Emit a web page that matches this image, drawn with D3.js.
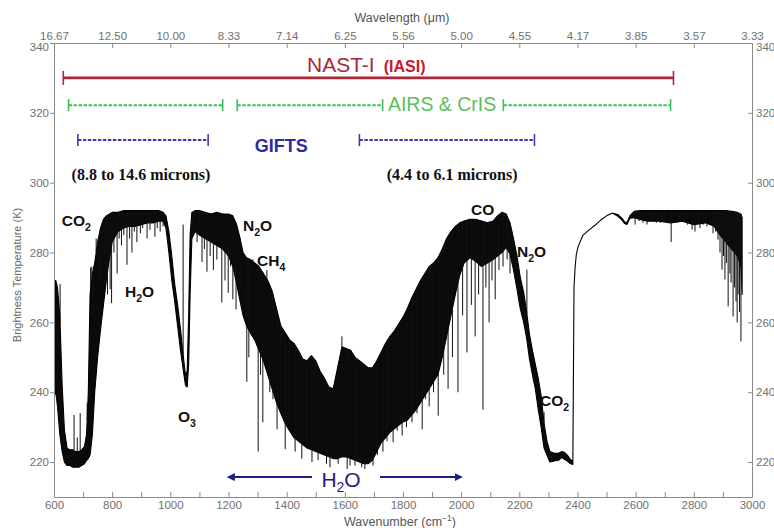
<!DOCTYPE html>
<html>
<head>
<meta charset="utf-8">
<script src="https://cdnjs.cloudflare.com/ajax/libs/d3/7.8.5/d3.min.js"></script>
<style>
  body { margin: 0; background: #fff; }
  svg { font-family: "Liberation Sans", Arial, sans-serif; }
  .axis text { fill: #707070; font-size: 11.5px; font-family: "Liberation Sans", Arial, sans-serif; }
  .axis path, .axis line { stroke: #8a8a8a; }
</style>
</head>
<body>
<div id="chart"></div>
<script>
// spectrum envelope (wavenumber cm-1, brightness temperature K)
const waveNum = [
  600, 606, 612, 620, 628, 636, 645, 655, 665, 675,
  685, 695, 705, 712, 718, 724, 732, 740, 750, 760,
  770, 780, 790, 800, 820, 840, 860, 880, 900, 920,
  940, 960, 975, 985, 995, 1005, 1015, 1025, 1035, 1045,
  1052, 1058, 1063, 1068, 1074, 1085, 1100, 1120, 1140, 1160,
  1180, 1200, 1215, 1228, 1240, 1250, 1262, 1275, 1290, 1305,
  1320, 1335, 1350, 1365, 1380, 1395, 1410, 1425, 1440, 1455,
  1470, 1485, 1500, 1515, 1530, 1545, 1560, 1575, 1590, 1605,
  1620, 1635, 1650, 1665, 1680, 1695, 1710, 1725, 1740, 1755,
  1770, 1785, 1800, 1815, 1830, 1845, 1860, 1875, 1890, 1905,
  1920, 1935, 1950, 1965, 1980, 1995, 2010, 2030, 2050, 2070,
  2090, 2110, 2125, 2140, 2155, 2168, 2180, 2192, 2203, 2215,
  2225, 2235, 2245, 2255, 2265, 2275, 2285, 2295, 2305, 2320,
  2335, 2345, 2355, 2365, 2375, 2384, 2388, 2392, 2396, 2402,
  2419, 2440, 2460, 2480, 2500, 2520, 2540, 2553, 2562, 2570,
  2580, 2595, 2615, 2640, 2680, 2720, 2760, 2800, 2840, 2870,
  2890, 2910, 2930, 2950, 2962, 2966,
];
const tbHigh = [
  271, 272, 270, 262, 242, 229, 224, 223.5, 223.5, 223,
  223, 223.5, 224.5, 228, 240, 268, 274, 277, 283, 287,
  289.5, 290.5, 291, 291.5, 291.5, 292, 292, 292, 292, 292,
  292, 292, 291.5, 290.5, 286, 279, 271, 265, 258, 250,
  245, 246, 262, 285, 291.5, 292, 292, 291.5, 291, 291.5,
  291, 291, 290.5, 288, 284, 280, 278.5, 278, 277, 276,
  274, 272, 269, 264, 259, 257, 255, 254, 252, 249.5,
  249, 250.5, 249, 246, 244, 241.5, 241, 247, 253, 252.5,
  252, 250, 249, 248, 247, 247, 249, 251.5, 254, 256,
  257.5, 259.5, 261.5, 264, 267, 269.5, 272, 274, 276, 277,
  278.5, 281, 284, 286, 287.5, 288.5, 289, 289.5, 289.5, 289,
  288.5, 289, 290.5, 291.5, 291, 288.5, 284, 279, 273, 268.5,
  263, 256.5, 252, 248, 244, 239, 231, 226, 223, 222.5,
  222.5, 223, 222.8, 222, 220.8, 220.2, 270, 276, 279.5, 281.7,
  285, 286.5, 287.8, 289.3, 290.5, 291.3, 290.8, 289.8, 288.8, 288.5,
  290.5, 291.8, 292, 292, 292, 292, 292, 292, 292, 292,
  292, 292, 291.8, 291.5, 291, 290,
];
const tbLow = [
  239, 240, 236, 228, 223, 220, 219, 219, 218.5, 218.5,
  218.5, 219, 219.5, 220.5, 221, 222, 228, 240, 250, 258,
  265, 272, 278, 283, 286, 287, 287.5, 287.5, 288, 288.5,
  288.5, 289, 289, 287, 280, 272, 266, 259, 252, 246,
  242, 241.5, 248, 268, 284, 286, 285, 284, 283, 282,
  281, 279, 276, 271, 266, 262, 259, 257, 255, 252,
  249, 245, 241, 237, 234, 231, 229, 227, 226, 225,
  224, 223.5, 223, 222.5, 222, 221.5, 221, 221, 221.5, 221.5,
  221, 220.5, 220, 219.5, 219.5, 220.5, 223, 225.5, 227, 228.5,
  229.5, 230.5, 231.5, 232, 233.5, 235, 237, 239, 241, 243,
  245, 250, 256, 262, 268, 273.5, 277, 278.5, 277.5, 276,
  277, 278, 279, 280, 281.5, 279.5, 275, 269.5, 264, 260,
  255.5, 249.5, 245, 241, 235, 230, 224, 222, 220, 220.3,
  220.5, 221.3, 220.8, 220.3, 219.6, 219.3, 270, 276, 279.5, 281.7,
  285, 286.5, 287.8, 289.3, 290.5, 291.3, 290.3, 289.3, 288.3, 288,
  289.8, 290, 289.5, 289, 289, 288.5, 289, 288, 288.5, 287.5,
  285, 283, 281, 279, 276, 268,
];

// single absorption lines that stick out of the envelope
const lineWn = [
  604, 608, 621, 669, 680, 690, 714, 726, 730, 736,
  745, 752, 758, 766, 775, 784, 793, 798, 806, 817,
  824, 832, 840, 851, 860, 868, 876, 885, 897, 905,
  920, 930, 947, 955, 965, 975, 1044, 1079, 1092, 1100,
  1109, 1117, 1126, 1137, 1148, 1160, 1168, 1177, 1188, 1199,
  1207, 1215, 1226, 1240, 1263, 1270, 1284, 1302, 1310, 1318,
  1332, 1342, 1353, 1367, 1378, 1395, 1410, 1429, 1440, 1452,
  1469, 1487, 1498, 1508, 1525, 1537, 1549, 1562, 1577, 1590,
  1608, 1618, 1635, 1645, 1658, 1669, 1684, 1697, 1712, 1731,
  1745, 1766, 1780, 1797, 1812, 1831, 1848, 1866, 1878, 1890,
  1905, 1921, 1940, 1955, 1970, 1989, 2005, 2020, 2035, 2048,
  2060, 2075, 2085, 2096, 2106, 2117, 2130, 2144, 2158, 2168,
  2226, 2285, 2598, 2612, 2625, 2639, 2650, 2660, 2671, 2684,
  2700, 2722, 2742, 2752, 2763, 2778, 2794, 2804, 2812, 2821,
  2833, 2845, 2856, 2866, 2875, 2883, 2890, 2897, 2902, 2907,
  2912, 2918, 2924, 2928, 2935, 2940, 2945, 2949, 2952, 2957, 2962,
];
const lineTb = [
  272, 268, 271, 233.5, 227, 234, 237, 275.7, 276, 262,
  284, 282, 272, 278, 274, 268, 269.5, 265.5, 280, 274,
  284, 282, 285, 276.5, 284, 280, 286, 283, 285.5, 287,
  284, 286.5, 284.5, 287, 286, 287.5, 288, 285.5, 283, 286,
  277.3, 281, 274.5, 279, 275, 278, 283, 265.7, 272, 268.5,
  276, 266.6, 263.7, 270, 243, 250, 278, 223, 245, 231.4,
  275, 240, 238, 229.4, 236, 223.7, 232, 223, 229, 221,
  226, 220, 225, 220.5, 224, 219.5, 218.5, 223, 219.5, 256,
  218, 219, 219, 221, 218.5, 218, 220, 219, 222, 223,
  226, 225.7, 229, 227.6, 230, 231.4, 234, 229.4, 238, 236,
  240, 233.3, 245, 241, 250, 240, 262, 251.4, 265, 256,
  268, 235, 270, 260, 272, 266.6, 275, 276, 278, 274,
  275.1, 234.3, 288, 289, 288.5, 288, 289, 289, 288.5, 288.5,
  289, 283, 288.5, 289, 289, 288, 286.6, 286, 288, 287,
  288, 287.5, 288, 285.5, 286, 283.7, 280, 275.1, 279, 272.3,
  277, 264.6, 274, 271.4, 261.7, 270, 266, 260, 268, 263, 254.6,
];

// axes
const wnTicks = [600, 700, 800, 900, 1000, 1100, 1200, 1300, 1400, 1500, 1600, 1700, 1800,
  1900, 2000, 2100, 2200, 2300, 2400, 2500, 2600, 2700, 2800, 2900, 3000];
const wlTickWn = [600, 800, 1000, 1200, 1400, 1600, 1800, 2000, 2200, 2400, 2600, 2800, 3000];
const wlLabels = ['16.67', '12.50', '10.00', '8.33', '7.14', '6.25', '5.56', '5.00', '4.55',
  '4.17', '3.85', '3.57', '3.33'];
const tbTicks = [220, 240, 260, 280, 300, 320, 340];

// instrument coverage bars
const nastRange = [632, 2730];
const airsRanges = [[650, 1180], [1230, 1730], [2145, 2720]];
const giftsRanges = [[682, 1130], [1650, 2252]];
const h2oArrow = [[1200, 1487], [1721, 2000]];

// gas labels
const gasPre = ['CO', 'H', 'O', 'N', 'CH', 'CO', 'N', 'CO'];
const gasSub = ['2', '2', '3', '2', '4', '', '2', '2'];
const gasPost = ['', 'O', '', 'O', '', '', 'O', ''];
const gasWn = [627, 844, 1026, 1250, 1298, 2034, 2192, 2271];
const gasTb = [287.6, 267.3, 231.5, 286.2, 276.1, 290.7, 278.7, 236];

const width = 774;
const height = 528;
const plot = { left: 54, right: 752, top: 43, bottom: 497 };

const svg = d3.select('#chart').append('svg')
  .attr('width', width)
  .attr('height', height);

svg.append('rect').attr('width', width).attr('height', height).attr('fill', '#fff');

const xScale = d3.scaleLinear().domain([600, 3000]).range([plot.left, plot.right]);
const yScale = d3.scaleLinear().domain([210, 340]).range([plot.bottom, plot.top]);

svg.append('clipPath').attr('id', 'plotClip')
  .append('rect')
  .attr('x', plot.left)
  .attr('y', plot.top)
  .attr('width', plot.right - plot.left)
  .attr('height', plot.bottom - plot.top);

// spectrum band
const spectrum = waveNum.map((w, i) => ({ w, hi: tbHigh[i], lo: tbLow[i] }));
const band = d3.area()
  .x(d => xScale(d.w))
  .y0(d => yScale(d.lo))
  .y1(d => yScale(d.hi));

const specG = svg.append('g').attr('clip-path', 'url(#plotClip)');

specG.append('path')
  .datum(spectrum)
  .attr('d', band)
  .attr('fill', '#0a0a0a')
  .attr('stroke', '#000')
  .attr('stroke-width', 1.1)
  .attr('stroke-linejoin', 'round');

const bis = d3.bisector(d => d).left;
function topAt(w) {
  const i = Math.max(1, Math.min(waveNum.length - 1, bis(waveNum, w)));
  const t = (w - waveNum[i - 1]) / (waveNum[i] - waveNum[i - 1]);
  return tbHigh[i - 1] + t * (tbHigh[i] - tbHigh[i - 1]);
}

specG.selectAll('.specline')
  .data(lineWn.map((w, i) => ({ w, tb: lineTb[i] })))
  .enter()
  .append('line')
  .attr('class', 'specline')
  .attr('x1', d => xScale(d.w))
  .attr('x2', d => xScale(d.w))
  .attr('y1', d => yScale(topAt(d.w)))
  .attr('y2', d => yScale(d.tb))
  .attr('stroke', '#111')
  .attr('stroke-width', 1);

// axes
svg.append('g')
  .attr('class', 'axis axis--x')
  .attr('transform', `translate(0,${plot.bottom})`)
  .call(d3.axisBottom(xScale)
    .tickValues(wnTicks)
    .tickFormat(d => (d % 200 === 0 ? d : ''))
    .tickSizeInner(-5)
    .tickSizeOuter(0)
    .tickPadding(4));

svg.append('g')
  .attr('class', 'axis axis--top')
  .attr('transform', `translate(0,${plot.top})`)
  .call(d3.axisTop(xScale)
    .tickValues(wlTickWn)
    .tickFormat((d, i) => wlLabels[i])
    .tickSizeInner(-5)
    .tickSizeOuter(0)
    .tickPadding(3));

svg.append('g')
  .attr('class', 'axis axis--y')
  .attr('transform', `translate(${plot.left},0)`)
  .call(d3.axisLeft(yScale)
    .tickValues(tbTicks)
    .tickSizeInner(4)
    .tickSizeOuter(0)
    .tickPadding(1));

svg.append('g')
  .attr('class', 'axis axis--y2')
  .attr('transform', `translate(${plot.right},0)`)
  .call(d3.axisRight(yScale)
    .tickValues(tbTicks)
    .tickSizeInner(-4)
    .tickSizeOuter(0)
    .tickPadding(4));

// the corner "340" labels sit a little lower than the wavelength labels, as in the source
svg.selectAll('.axis--y .tick text, .axis--y2 .tick text')
  .filter(d => d === 340)
  .attr('dy', '0.62em');

svg.append('text')
  .attr('x', 402)
  .attr('y', 22)
  .attr('text-anchor', 'middle')
  .attr('fill', '#555')
  .style('font-size', '12.5px')
  .text('Wavelength (μm)');

const xTitle = svg.append('text')
  .attr('x', 400)
  .attr('y', 526)
  .attr('text-anchor', 'middle')
  .attr('fill', '#555')
  .style('font-size', '12.5px');
xTitle.append('tspan').text('Wavenumber (cm');
xTitle.append('tspan').attr('dy', -5).style('font-size', '8.5px').text('−1');
xTitle.append('tspan').attr('dy', 5).text(')');

svg.append('text')
  .attr('transform', `translate(21,275) rotate(-90)`)
  .attr('text-anchor', 'middle')
  .attr('fill', '#666')
  .style('font-size', '11px')
  .text('Brightness Temperature (K)');

// instrument bars
function capBar(g, w0, w1, tb, color, width, dash, cap) {
  const y = yScale(tb);
  g.append('line')
    .attr('x1', xScale(w0)).attr('x2', xScale(w1))
    .attr('y1', y).attr('y2', y)
    .attr('stroke', color)
    .attr('stroke-width', width)
    .attr('stroke-dasharray', dash);
  [w0, w1].forEach((w) => {
    g.append('line')
      .attr('x1', xScale(w)).attr('x2', xScale(w))
      .attr('y1', y - cap).attr('y2', y + cap)
      .attr('stroke', color)
      .attr('stroke-width', 1.6);
  });
}

const ann = svg.append('g');

capBar(ann, nastRange[0], nastRange[1], 330, '#a8283a', 2.6, null, 7);
airsRanges.forEach(r => capBar(ann, r[0], r[1], 322.2, '#3fbf5a', 2, '3.5,1.5', 6));
giftsRanges.forEach(r => capBar(ann, r[0], r[1], 312.2, '#3c3cb4', 2, '3.5,1.5', 6));

const nastText = ann.append('text')
  .attr('x', xScale(1470))
  .attr('y', yScale(331.6))
  .attr('fill', '#a8283a');
nastText.append('tspan').style('font-size', '21px').text('NAST-I');
nastText.append('tspan').attr('dx', 9).attr('fill', '#c8182e').style('font-size', '16px').style('font-weight', 'bold').text('(IASI)');

ann.append('text')
  .attr('x', xScale(1748))
  .attr('y', yScale(320.4))
  .attr('fill', '#5cbf5c')
  .style('font-size', '19.5px')
  .text('AIRS & CrIS');

ann.append('text')
  .attr('x', xScale(1381))
  .attr('y', yScale(308.8))
  .attr('text-anchor', 'middle')
  .attr('fill', '#2c2ca0')
  .style('font-size', '18px')
  .style('font-weight', 'bold')
  .text('GIFTS');

[[899, '(8.8 to 14.6 microns)'], [1969, '(4.4 to 6.1 microns)']].forEach((m) => {
  ann.append('text')
    .attr('x', xScale(m[0]))
    .attr('y', yScale(300.8))
    .attr('text-anchor', 'middle')
    .attr('fill', '#111')
    .style('font-family', '"Liberation Serif", "Times New Roman", serif')
    .style('font-size', '16px')
    .style('font-weight', 'bold')
    .text(m[1]);
});

// H2O arrow
const navy = '#1e1e86';
svg.append('defs').append('marker')
  .attr('id', 'arrowHead')
  .attr('viewBox', '0 0 10 10')
  .attr('refX', 8)
  .attr('refY', 5)
  .attr('markerWidth', 4)
  .attr('markerHeight', 4)
  .attr('orient', 'auto-start-reverse')
  .append('path')
  .attr('d', 'M0,0L10,5L0,10z')
  .attr('fill', navy);

ann.append('line')
  .attr('x1', xScale(h2oArrow[0][0])).attr('x2', xScale(h2oArrow[0][1]))
  .attr('y1', yScale(215.7)).attr('y2', yScale(215.7))
  .attr('stroke', navy).attr('stroke-width', 2)
  .attr('marker-start', 'url(#arrowHead)');
ann.append('line')
  .attr('x1', xScale(h2oArrow[1][0])).attr('x2', xScale(h2oArrow[1][1]))
  .attr('y1', yScale(215.7)).attr('y2', yScale(215.7))
  .attr('stroke', navy).attr('stroke-width', 2)
  .attr('marker-end', 'url(#arrowHead)');

const h2o = ann.append('text')
  .attr('x', xScale(1587))
  .attr('y', yScale(212.9))
  .attr('text-anchor', 'middle')
  .attr('fill', navy)
  .style('font-size', '21px');
h2o.append('tspan').text('H');
h2o.append('tspan').attr('dy', 5).style('font-size', '14px').text('2');
h2o.append('tspan').attr('dy', -5).text('O');

// gas labels
gasPre.forEach((p, i) => {
  const t = ann.append('text')
    .attr('x', xScale(gasWn[i]))
    .attr('y', yScale(gasTb[i]))
    .attr('fill', '#111')
    .style('font-size', '15.5px')
    .style('font-weight', 'bold');
  t.append('tspan').text(p);
  if (gasSub[i]) {
    t.append('tspan').attr('dy', 5).style('font-size', '10.5px').text(gasSub[i]);
  }
  if (gasPost[i]) {
    t.append('tspan').attr('dy', -5).text(gasPost[i]);
  }
});
</script>
</body>
</html>
